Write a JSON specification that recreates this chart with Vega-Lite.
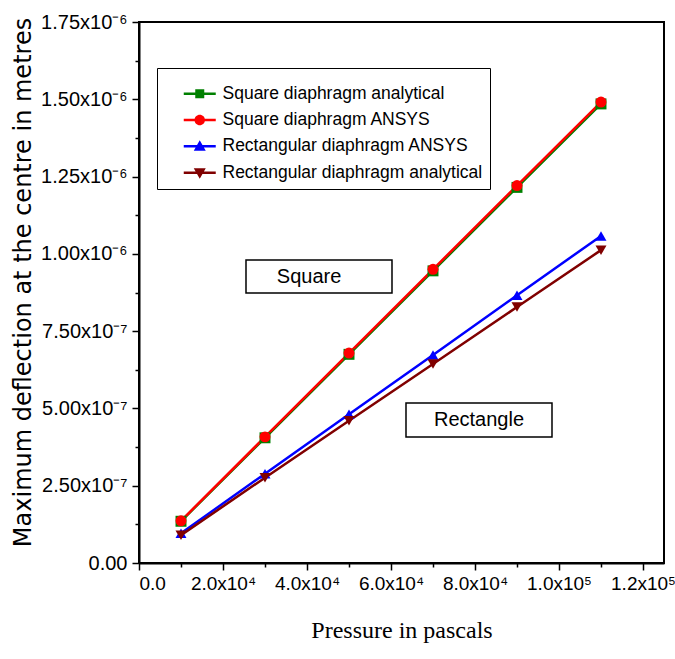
{
  "$schema": "https://vega.github.io/schema/vega-lite/v6.json",
  "width": 525,
  "height": 541,
  "autosize": {"type": "none"},
  "padding": {"left": 139, "top": 22, "right": 11, "bottom": 96},
  "background": "white",
  "config": {
    "view": {"stroke": "black", "strokeWidth": 2},
    "axis": {
      "domainColor": "black", "domainWidth": 2, "tickColor": "black", "tickWidth": 1.5,
      "labelColor": "black", "titleColor": "black", "grid": false,
      "labelFont": "Liberation Sans, Arial", "labelFontSize": 20
    }
  },
  "datasets": {
    "series": [
      {"p": 10000, "d": 1.35e-7, "s": "Square diaphragm analytical"},
      {"p": 30000, "d": 4.05e-7, "s": "Square diaphragm analytical"},
      {"p": 50000, "d": 6.75e-7, "s": "Square diaphragm analytical"},
      {"p": 70000, "d": 9.45e-7, "s": "Square diaphragm analytical"},
      {"p": 90000, "d": 1.215e-6, "s": "Square diaphragm analytical"},
      {"p": 110000, "d": 1.485e-6, "s": "Square diaphragm analytical"},
      {"p": 10000, "d": 1.365e-7, "s": "Square diaphragm ANSYS"},
      {"p": 30000, "d": 4.08e-7, "s": "Square diaphragm ANSYS"},
      {"p": 50000, "d": 6.79e-7, "s": "Square diaphragm ANSYS"},
      {"p": 70000, "d": 9.5e-7, "s": "Square diaphragm ANSYS"},
      {"p": 90000, "d": 1.221e-6, "s": "Square diaphragm ANSYS"},
      {"p": 110000, "d": 1.491e-6, "s": "Square diaphragm ANSYS"},
      {"p": 10000, "d": 9.6e-8, "s": "Rectangular diaphragm ANSYS"},
      {"p": 30000, "d": 2.89e-7, "s": "Rectangular diaphragm ANSYS"},
      {"p": 50000, "d": 4.81e-7, "s": "Rectangular diaphragm ANSYS"},
      {"p": 70000, "d": 6.73e-7, "s": "Rectangular diaphragm ANSYS"},
      {"p": 90000, "d": 8.66e-7, "s": "Rectangular diaphragm ANSYS"},
      {"p": 110000, "d": 1.058e-6, "s": "Rectangular diaphragm ANSYS"},
      {"p": 10000, "d": 9.0e-8, "s": "Rectangular diaphragm analytical"},
      {"p": 30000, "d": 2.76e-7, "s": "Rectangular diaphragm analytical"},
      {"p": 50000, "d": 4.6e-7, "s": "Rectangular diaphragm analytical"},
      {"p": 70000, "d": 6.44e-7, "s": "Rectangular diaphragm analytical"},
      {"p": 90000, "d": 8.28e-7, "s": "Rectangular diaphragm analytical"},
      {"p": 110000, "d": 1.012e-6, "s": "Rectangular diaphragm analytical"}
    ],
    "boxes": [
      {"x1": 25476, "x2": 60238, "y1": 8.734e-7, "y2": 9.801e-7, "tx": 40500, "ty": 9.25e-7, "label": "Square"},
      {"x1": 63571, "x2": 98333, "y1": 4.076e-7, "y2": 5.176e-7, "tx": 80952, "ty": 4.626e-7, "label": "Rectangle"}
    ]
  },
  "resolve": {"axis": {"x": "independent", "y": "independent"}, "scale": {"color": "independent", "shape": "independent"}},
  "layer": [
    {
      "data": {"name": "series"},
      "mark": {"type": "point", "opacity": 0},
      "encoding": {
        "x": {"field": "p", "type": "quantitative", "scale": {"domain": [0, 125000], "nice": false},
          "axis": {"orient": "bottom", "values": [10000, 30000, 50000, 70000, 90000, 110000], "labels": false, "tickSize": 4, "domain": false, "title": null}},
        "y": {"field": "d", "type": "quantitative", "scale": {"domain": [0, 1.75e-6], "nice": false},
          "axis": {"orient": "left", "values": [1.25e-7, 3.75e-7, 6.25e-7, 8.75e-7, 1.125e-6, 1.375e-6, 1.625e-6], "labels": false, "tickSize": 4, "domain": false, "title": null}}
      }
    },
    {
      "data": {"name": "series"},
      "mark": {"type": "line", "strokeWidth": 2.5},
      "encoding": {
        "x": {"field": "p", "type": "quantitative",
          "axis": {"orient": "bottom", "values": [0, 20000, 40000, 60000, 80000, 100000, 120000], "tickSize": 7, "labelPadding": 4, "labelFontSize": 19,
            "labelExpr": "datum.value == 0 ? '0.0' : datum.value < 99000 ? format(datum.value / 10000, '.1f') + 'x10⁴' : format(datum.value / 100000, '.1f') + 'x10⁵'",
            "title": "Pressure in pascals", "titleFont": "Liberation Serif, Times New Roman, serif", "titleFontSize": 24, "titleFontWeight": "normal", "titlePadding": 25}},
        "y": {"field": "d", "type": "quantitative",
          "axis": {"orient": "left", "values": [0, 2.5e-7, 5e-7, 7.5e-7, 1e-6, 1.25e-6, 1.5e-6, 1.75e-6], "tickSize": 7, "labelPadding": 5,
            "labelExpr": "datum.value == 0 ? '0.00' : datum.value < 9.9e-7 ? format(datum.value * 1e7, '.2f') + 'x10⁻⁷' : format(datum.value * 1e6, '.2f') + 'x10⁻⁶'",
            "title": "Maximum deflection at the centre in metres", "titleFont": "DejaVu Sans", "titleFontSize": 24, "titleFontWeight": "normal", "titlePadding": 5, "titleY": 260}},
        "color": {"field": "s", "type": "nominal", "legend": null,
          "scale": {"domain": ["Square diaphragm analytical", "Square diaphragm ANSYS", "Rectangular diaphragm ANSYS", "Rectangular diaphragm analytical"],
            "range": ["#008000", "#ff0000", "#0000ff", "#800000"]}}
      }
    },
    {
      "data": {"name": "series"},
      "mark": {"type": "point", "filled": true, "opacity": 1, "size": 120},
      "encoding": {
        "x": {"field": "p", "type": "quantitative", "axis": null},
        "y": {"field": "d", "type": "quantitative", "axis": null},
        "color": {"field": "s", "type": "nominal", "legend": null,
          "scale": {"domain": ["Square diaphragm analytical", "Square diaphragm ANSYS", "Rectangular diaphragm ANSYS", "Rectangular diaphragm analytical"],
            "range": ["#008000", "#ff0000", "#0000ff", "#800000"]}},
        "shape": {"field": "s", "type": "nominal", "legend": null,
          "scale": {"domain": ["Square diaphragm analytical", "Square diaphragm ANSYS", "Rectangular diaphragm ANSYS", "Rectangular diaphragm analytical"],
            "range": ["square", "circle", "triangle-up", "triangle-down"]}}
      }
    },
    {
      "data": {"name": "series"},
      "transform": [{"filter": "false"}],
      "mark": {"type": "point", "filled": true, "opacity": 1, "size": 100},
      "encoding": {
        "x": {"field": "p", "type": "quantitative", "axis": null},
        "y": {"field": "d", "type": "quantitative", "axis": null},
        "color": {"field": "s", "type": "nominal",
          "scale": {"domain": ["Square diaphragm analytical", "Square diaphragm ANSYS", "Rectangular diaphragm ANSYS", "Rectangular diaphragm analytical"],
            "range": ["#008000", "#ff0000", "#0000ff", "#800000"]},
          "legend": {
            "orient": "none", "legendX": 18, "legendY": 46, "title": "\u200b", "titleFontSize": 10, "titlePadding": 0,
            "strokeColor": "black", "padding": 7, "rowPadding": 7.3, "labelLimit": 0,
            "symbolSize": 100, "symbolOffset": 27, "labelOffset": 14,
            "labelFont": "Liberation Sans, Arial", "labelFontSize": 17.5, "labelColor": "black"
          }},
        "shape": {"field": "s", "type": "nominal",
          "scale": {"domain": ["Square diaphragm analytical", "Square diaphragm ANSYS", "Rectangular diaphragm ANSYS", "Rectangular diaphragm analytical"],
            "range": [
              "M-3.2,-0.25H3.2V0.25H-3.2ZM-0.9,-0.9H0.9V0.9H-0.9Z",
              "M-3.2,-0.25H3.2V0.25H-3.2ZM1.05,0A1.05,1.05,0,1,1,-1.05,0A1.05,1.05,0,1,1,1.05,0Z",
              "M-3.2,-0.25H3.2V0.25H-3.2ZM0,-1.2L1.2,0.9H-1.2Z",
              "M-3.2,-0.25H3.2V0.25H-3.2ZM0,1.2L-1.2,-0.9H1.2Z"
            ]}}
      }
    },
    {
      "data": {"name": "boxes"},
      "mark": {"type": "rect", "fill": "white", "stroke": "black", "strokeWidth": 1.5},
      "encoding": {
        "x": {"field": "x1", "type": "quantitative", "axis": null},
        "x2": {"field": "x2"},
        "y": {"field": "y1", "type": "quantitative", "axis": null},
        "y2": {"field": "y2"}
      }
    },
    {
      "data": {"name": "boxes"},
      "mark": {"type": "text", "font": "Liberation Sans, Arial", "fontSize": 20, "color": "black", "align": "center", "baseline": "middle"},
      "encoding": {
        "x": {"field": "tx", "type": "quantitative", "axis": null},
        "y": {"field": "ty", "type": "quantitative", "axis": null},
        "text": {"field": "label"}
      }
    }
  ]
}
